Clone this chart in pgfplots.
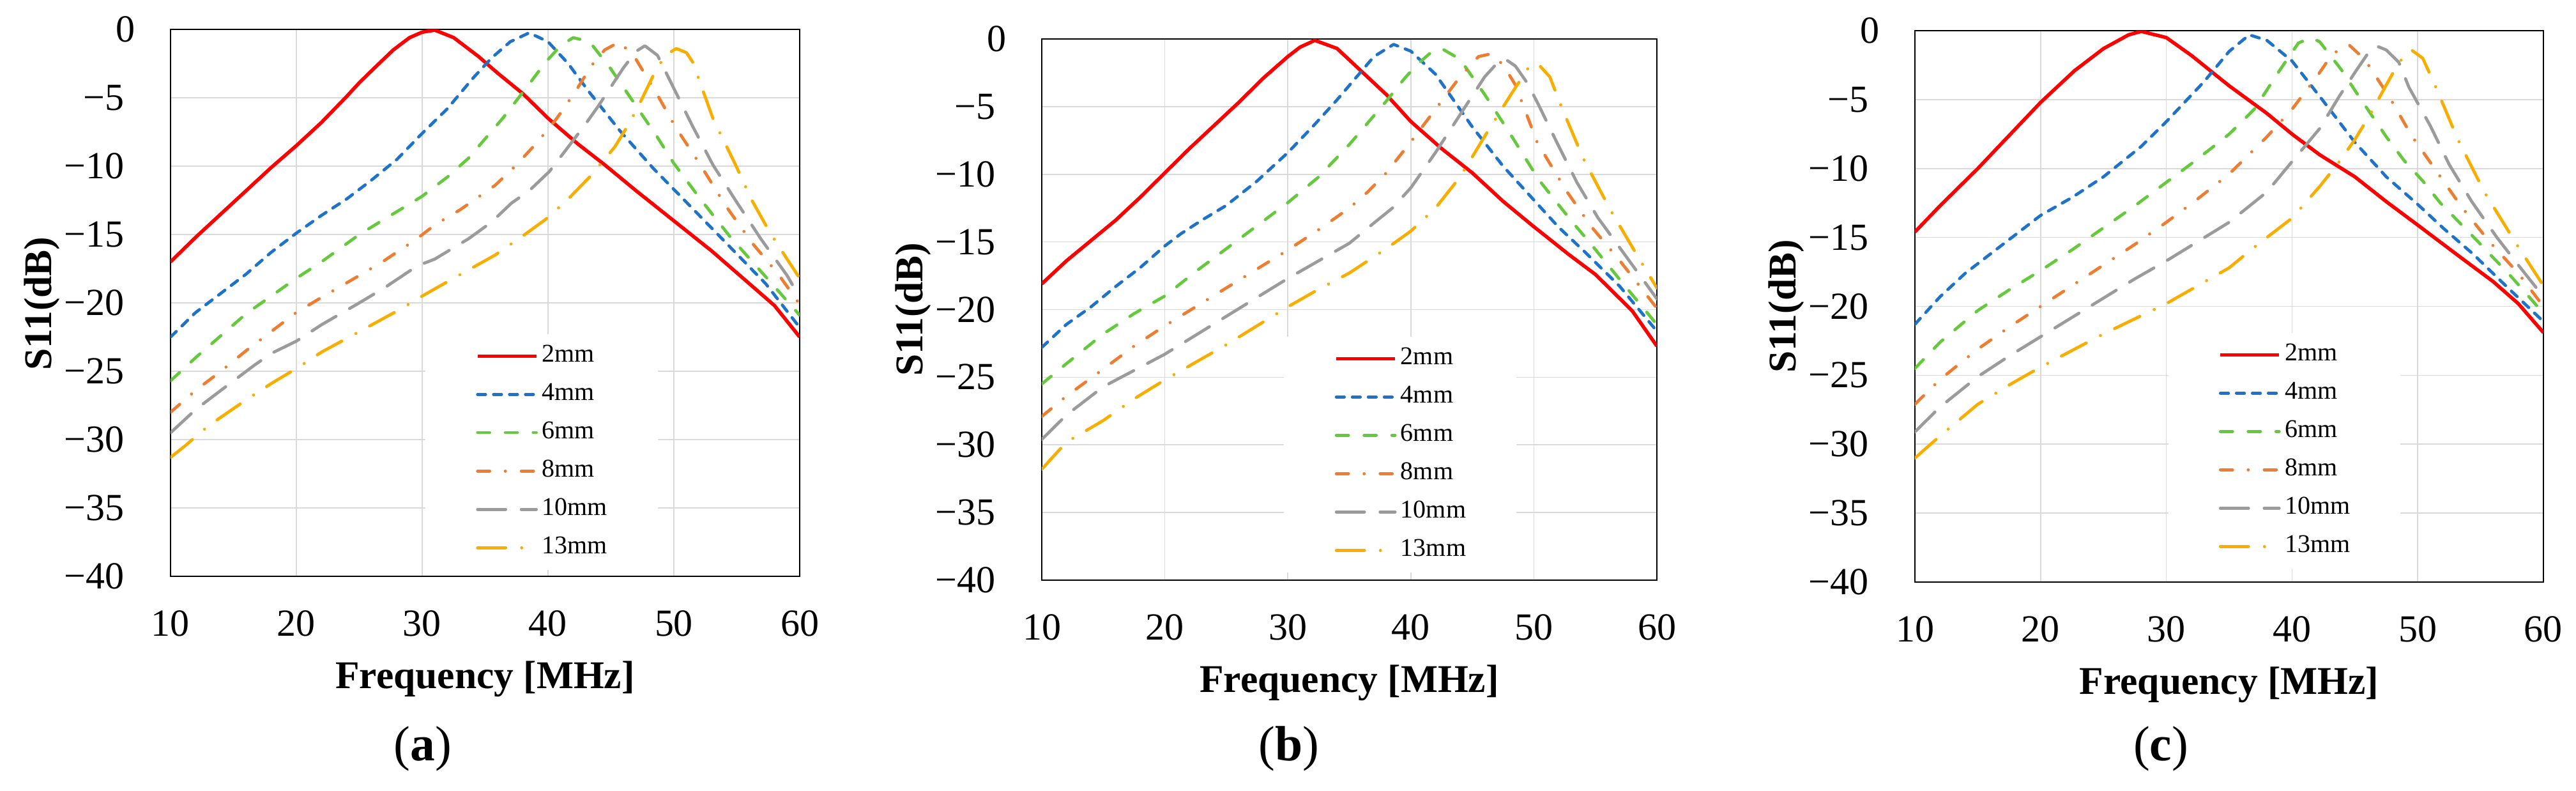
\documentclass[border=0pt]{standalone}
\usepackage{pgfplots}
\pgfplotsset{compat=1.18}
\usepackage{fontspec}
\setmainfont{Liberation Serif}
\definecolor{cRed}{RGB}{255,0,0}
\definecolor{cBlue}{RGB}{30,115,200}
\definecolor{cGreen}{RGB}{102,200,60}
\definecolor{cOrange}{RGB}{237,125,49}
\definecolor{cGray}{RGB}{155,155,155}
\definecolor{cGold}{RGB}{247,174,0}
\definecolor{gridgray}{RGB}{217,217,217}
\tikzset{
 s2/.style={color=cRed, line width=1.1pt, solid, line join=round},
 s4/.style={color=cBlue, line width=0.95pt, line cap=round, line join=round, dash pattern=on 2.5pt off 2.5pt},
 s6/.style={color=cGreen, line width=0.95pt, line cap=round, line join=round, dash pattern=on 3.8pt off 4.9pt},
 s8/.style={color=cOrange, line width=0.95pt, line cap=round, line join=round, dash pattern=on 3.8pt off 4.9pt on 0.01pt off 5pt},
 s10/.style={color=cGray, line width=0.95pt, line cap=round, line join=round, dash pattern=on 8.8pt off 4.9pt},
 s13/.style={color=cGold, line width=0.95pt, line cap=round, line join=round, dash pattern=on 8.8pt off 5pt on 0.01pt off 4.9pt},
}
\pgfplotsset{
 myax/.style={
  scale only axis,
  xmin=10, xmax=60, ymin=-40, ymax=0,
  xtick={10,20,30,40,50,60},
  xticklabels={10,20,30,40,50,60},
  ytick={-40,-35,-30,-25,-20,-15,-10,-5,0},
  yticklabels={−40,−35,−30,−25,−20,−15,−10,−5,0\kern-3.5pt},
  /pgf/number format/assume math mode=true,
  grid=major,
  major grid style={color=gridgray, line width=0.33pt},
  axis line style={line width=0.55pt, black},
  major tick length=0pt,
  tick label style={font=\fontsize{12}{14}\selectfont, inner sep=0pt},
  xticklabel style={anchor=north, yshift=-10.6pt},
  yticklabel style={anchor=east, xshift=-14.4pt},
  no markers,
  legend cell align=left,
  legend image code/.code={\draw[##1] (0pt,0pt) -- (18.4pt,0pt);},
  legend style={draw=none, fill=white, anchor=north west, inner xsep=15.8pt, inner ysep=3.5pt, outer sep=0pt,
    font=\fontsize{8}{9.6}\selectfont, nodes={inner sep=0pt}, row sep=5.2pt, column sep=1.2pt},
 },
}
\newcommand{\lbl}{\fontsize{12.3}{14}\selectfont\bfseries}
\begin{document}
\begin{tikzpicture}
% ---------------- (a) ----------------
\begin{axis}[myax, at={(53.4pt,67.0pt)}, anchor=south west, width=197pt, height=171.2pt,
  legend style={at={(rel axis cs:0.405,0.443)}}]
\addplot[s2] coordinates {(10,-17.0) (12,-15.2) (14,-13.5) (16,-11.8) (18,-10.1) (20,-8.5) (22,-6.8) (24,-4.9) (25,-3.9) (26,-3.0) (27.7,-1.5) (29,-0.6) (30,-0.2) (31,-0.05) (32.5,-0.6) (34.5,-2.0) (36,-3.2) (38,-4.7) (40,-6.5) (42.4,-8.4) (44.5,-9.9) (47,-11.8) (50,-14.0) (53,-16.2) (56,-18.6) (58,-20.2) (60,-22.5)};
\addplot[s4] coordinates {(10,-22.5) (12,-20.7) (14,-19.3) (16,-17.9) (18,-16.3) (20,-14.9) (22,-13.6) (24,-12.4) (26,-11.0) (28,-9.5) (30,-7.6) (32,-5.8) (34,-3.6) (35.5,-2.1) (37,-0.9) (38.5,-0.25) (40,-0.9) (41.6,-2.5) (43.2,-4.5) (45.7,-7.4) (48.4,-10.2) (50,-11.7) (53.5,-15.0) (57.3,-18.6) (60,-21.8)};
\addplot[s6] coordinates {(10,-25.7) (12,-24.0) (14,-22.4) (16,-20.8) (18,-19.5) (20,-18.2) (22,-17.0) (25,-15.0) (27.5,-13.6) (30,-12.2) (32,-10.8) (33.7,-9.4) (35,-8.0) (36.4,-6.5) (38.5,-4.0) (39.8,-2.4) (41,-1.2) (42,-0.6) (43.3,-0.9) (45,-2.9) (47,-5.6) (48.7,-7.9) (50,-9.8) (52.1,-12.4) (54.5,-15.2) (57.6,-18.4) (60,-20.9)};
\addplot[s8] coordinates {(10,-28.0) (12,-26.4) (14,-25.0) (16,-23.5) (18,-22.1) (20,-20.7) (22,-19.6) (25,-18.0) (27,-16.9) (29.6,-15.3) (31,-14.3) (33,-13.2) (35.8,-11.4) (37.5,-9.9) (39.2,-8.2) (40.7,-6.5) (42.2,-4.5) (43.5,-2.6) (44.5,-1.5) (45.7,-0.9) (47,-2.2) (48.7,-4.8) (50.1,-7.1) (52.1,-9.9) (54.2,-13.0) (56.2,-15.6) (58.3,-17.9) (60,-20.1)};
\addplot[s10] coordinates {(10,-29.5) (12,-27.8) (14,-26.4) (16.6,-24.6) (18,-23.7) (20,-22.8) (22,-21.6) (25,-20.0) (27,-18.9) (29.6,-17.3) (31,-16.8) (33.7,-15.3) (35.5,-14.1) (37.1,-12.7) (38.5,-11.8) (40.1,-10.4) (41.6,-8.6) (43,-6.9) (44,-5.6) (45,-4.2) (46,-2.8) (47,-1.6) (47.7,-1.2) (48.7,-1.9) (50.1,-4.5) (51.5,-7.1) (53.1,-9.9) (54.9,-12.5) (56.9,-15.3) (59,-18.0) (60,-19.6)};
\addplot[s13] coordinates {(10,-31.3) (11.1,-30.5) (13,-29.0) (16,-27.1) (18,-25.9) (20,-24.8) (22,-23.6) (25,-22.1) (28,-20.6) (30,-19.5) (32.3,-18.3) (35.8,-16.5) (38,-15.1) (39.8,-13.9) (41.5,-12.5) (43.3,-10.8) (45.3,-8.6) (46.5,-6.8) (47.4,-5.2) (48.4,-3.3) (49.3,-1.9) (50.2,-1.4) (51,-1.7) (51.5,-2.4) (53.1,-6.5) (54.9,-9.9) (56.2,-12.5) (57.6,-14.8) (59,-16.8) (60,-18.2)};
\legend{2mm,4mm,6mm,8mm,10mm,13mm}
\end{axis}
% ---------------- (b) ----------------
\begin{axis}[myax, at={(326.2pt,65.8pt)}, anchor=south west, width=192.6pt, height=169.4pt,
  legend style={at={(rel axis cs:0.394,0.450)}}]
\addplot[s2] coordinates {(10,-18.1) (12,-16.4) (14,-14.9) (16,-13.4) (18,-11.7) (20,-9.9) (22,-8.1) (24,-6.4) (26,-4.7) (28,-2.9) (30,-1.3) (31,-0.6) (32.2,-0.1) (34,-0.7) (36,-2.4) (38,-4.1) (40,-6.1) (42.5,-8.1) (45,-9.9) (47.5,-12.0) (49.9,-13.8) (52.8,-15.9) (55,-17.4) (58,-20.1) (60,-22.7)};
\addplot[s4] coordinates {(10,-22.8) (12,-21.1) (14,-19.8) (16,-18.3) (18,-16.9) (20,-15.3) (21.3,-14.4) (23,-13.4) (25,-12.3) (27.5,-10.5) (30,-8.4) (32,-6.5) (34,-4.5) (35.5,-2.9) (37,-1.3) (38.6,-0.4) (40,-0.9) (42,-2.6) (45,-6.5) (47.5,-9.4) (50.1,-12.0) (52,-13.9) (54.1,-15.7) (57,-18.3) (60,-21.6)};
\addplot[s6] coordinates {(10,-25.5) (12,-24.0) (15,-21.8) (17.5,-20.3) (20,-19.0) (22.5,-17.2) (25,-15.5) (27.5,-13.8) (30,-12.1) (32.5,-10.2) (35,-7.8) (36.5,-6.2) (38,-4.6) (39.5,-2.9) (40.5,-1.9) (41.5,-1.1) (42.5,-0.7) (44,-1.5) (46,-4.1) (48,-6.9) (50.4,-10.4) (51.7,-11.9) (53.1,-13.5) (54.5,-15.0) (57,-17.8) (60,-21.1)};
\addplot[s8] coordinates {(10,-27.9) (12,-26.4) (15,-24.4) (17.5,-22.7) (20,-21.2) (22.5,-19.8) (25,-18.4) (27.5,-17.0) (30,-15.6) (32.5,-14.1) (35,-12.5) (36.5,-11.3) (38,-9.9) (40,-7.6) (42,-5.2) (44,-2.8) (45.5,-1.3) (46.5,-1.1) (47.5,-1.9) (48.5,-3.4) (50.3,-7.7) (51.5,-9.5) (52.7,-11.3) (54.7,-13.9) (57,-16.4) (60,-19.9)};
\addplot[s10] coordinates {(10,-29.6) (12,-27.8) (15,-25.7) (17.5,-24.5) (20,-23.3) (22.5,-21.9) (25,-20.5) (27.5,-19.1) (30,-17.7) (32.5,-16.4) (35,-15.1) (37,-13.6) (38.5,-12.5) (40,-11.0) (42,-8.4) (44,-5.6) (46,-2.8) (47,-1.8) (47.7,-1.5) (48.5,-2.0) (49.5,-3.3) (50.4,-4.9) (51.9,-7.7) (53.5,-10.6) (55.2,-13.2) (57.2,-15.7) (60,-19.2)};
\addplot[s13] coordinates {(10,-31.8) (12,-29.8) (15,-28.2) (17.5,-26.6) (20,-25.2) (22.5,-23.9) (25,-22.6) (27.5,-21.2) (30,-19.8) (32.5,-18.5) (35,-17.3) (38,-15.5) (40,-14.2) (42,-12.5) (44,-10.2) (46,-7.2) (48,-4.3) (49.5,-2.2) (50.3,-1.8) (51.3,-2.8) (52.1,-4.7) (54,-8.8) (56.2,-12.6) (58.4,-16.0) (60,-18.4)};
\legend{2mm,4mm,6mm,8mm,10mm,13mm}
\end{axis}
% ---------------- (c) ----------------
\begin{axis}[myax, at={(599.6pt,65.2pt)}, anchor=south west, width=196.8pt, height=172.6pt,
  legend style={at={(rel axis cs:0.403,0.452)}}]
\addplot[s2] coordinates {(10,-14.6) (12,-12.7) (15,-10.0) (17.5,-7.6) (20,-5.2) (22.7,-2.9) (25,-1.3) (27,-0.3) (28,-0.05) (30,-0.5) (32,-1.8) (35,-4.0) (38,-6.0) (40,-7.5) (42.2,-9.0) (45,-10.6) (47.5,-12.4) (50,-14.1) (53.2,-16.3) (56,-18.2) (58,-19.8) (60,-21.9)};
\addplot[s4] coordinates {(10,-21.3) (12,-19.3) (14,-17.6) (16,-16.2) (18,-14.8) (20,-13.4) (22.5,-12.1) (25,-10.6) (28,-8.4) (30,-6.6) (33,-3.7) (35,-1.5) (36.6,-0.3) (38,-0.7) (40,-2.2) (42.4,-5.0) (45,-8.1) (47.5,-10.6) (50,-12.6) (52,-14.3) (54.4,-16.2) (57,-18.5) (60,-21.1)};
\addplot[s6] coordinates {(10,-24.5) (12,-22.6) (15,-20.3) (17.5,-18.8) (20,-17.4) (22.5,-15.9) (25,-14.3) (27.5,-12.7) (30,-11.0) (32.5,-9.3) (35,-7.5) (37,-5.7) (39,-2.9) (40.5,-0.9) (41.5,-0.5) (42.2,-0.8) (43.9,-2.8) (45.2,-4.6) (47.5,-7.7) (48.9,-9.4) (50.4,-10.9) (51.8,-12.5) (53.3,-13.9) (54.9,-15.4) (57.5,-17.9) (60,-20.5)};
\addplot[s8] coordinates {(10,-27.1) (12,-25.3) (15,-23.1) (17.5,-21.5) (20,-20.0) (22.5,-18.5) (25,-17.0) (27.5,-15.5) (30,-13.9) (32.5,-12.2) (35,-10.4) (38,-7.7) (40,-5.7) (42,-3.3) (43.2,-1.7) (44.5,-1.0) (45.8,-2.1) (47.8,-4.9) (49.5,-7.6) (51.5,-10.2) (53.5,-12.8) (55.7,-15.3) (58,-17.6) (60,-20.0)};
\addplot[s10] coordinates {(10,-29.1) (12,-27.3) (15,-25.1) (17.5,-23.6) (20,-22.2) (22.5,-20.8) (25,-19.4) (27.5,-18.0) (30,-16.7) (32.5,-15.3) (35,-13.9) (38,-11.7) (40,-9.5) (42.2,-7.1) (43.8,-4.7) (45.1,-2.9) (46,-1.7) (46.7,-1.1) (47.5,-1.4) (48.5,-2.3) (49.3,-4.1) (51,-6.9) (52.5,-9.7) (54.3,-12.4) (56.3,-15.0) (58,-17.0) (60,-19.3)};
\addplot[s13] coordinates {(10,-31.0) (12,-29.4) (15,-27.1) (17.5,-25.7) (20,-24.4) (22.5,-23.2) (25,-22.0) (27.5,-20.9) (30,-19.8) (32.5,-18.5) (35,-17.2) (37,-15.7) (40,-13.6) (42.2,-11.3) (43.6,-9.7) (45,-7.9) (46.2,-6.1) (47.4,-4.1) (48.5,-2.3) (49.5,-1.4) (50.4,-2.0) (51.3,-3.8) (53.2,-7.9) (55.3,-11.7) (57.8,-15.4) (60,-18.5)};
\legend{2mm,4mm,6mm,8mm,10mm,13mm}
\end{axis}
% ---------------- labels ----------------
\node[rotate=90, anchor=base, font=\lbl] at (16.0pt,152.4pt) {S11(dB)};
\node[rotate=90, anchor=base, font=\lbl] at (288.8pt,150.5pt) {S11(dB)};
\node[rotate=90, anchor=base, font=\lbl] at (562.2pt,151.5pt) {S11(dB)};
\node[anchor=base, font=\lbl] at (151.9pt,32.0pt) {Frequency [MHz]};
\node[anchor=base, font=\lbl] at (422.5pt,30.8pt) {Frequency [MHz]};
\node[anchor=base, font=\lbl] at (698.0pt,30.2pt) {Frequency [MHz]};
\node[anchor=base, font=\fontsize{15.5}{18}\selectfont] at (132.4pt,9.4pt) {(\textbf{a})};
\node[anchor=base, font=\fontsize{15.5}{18}\selectfont] at (403.6pt,9.4pt) {(\textbf{b})};
\node[anchor=base, font=\fontsize{15.5}{18}\selectfont] at (676.6pt,9.4pt) {(\textbf{c})};
\pgfresetboundingbox
\path[use as bounding box] (0pt,0pt) rectangle (806.6pt,247.4pt);
\end{tikzpicture}
\end{document}
